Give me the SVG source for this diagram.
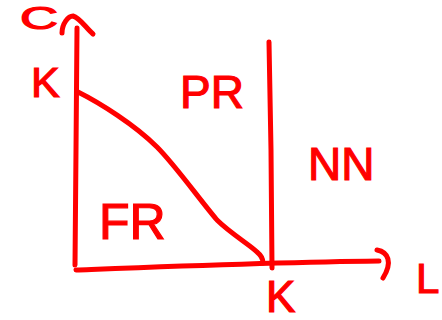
<svg xmlns="http://www.w3.org/2000/svg" width="442" height="320" viewBox="0 0 442 320">
<style>
.ln{fill:none;stroke:#ff0000;stroke-width:5;stroke-linecap:round;stroke-linejoin:round}
.t{font-family:"Liberation Sans",Arial,sans-serif;fill:#ff0000;stroke:#ff0000;stroke-width:1.2}
</style>
<rect width="442" height="320" fill="#ffffff"/>
<g id="connectors">
<path class="ln" d="M75,265 L76,150 L77,28"/>
<path class="ln" d="M62,33 C62,24 68,16 73,16 C80,18 86,28 93,34"/>
<path class="ln" d="M76,270 C180,266 280,262 379,261"/>
<path class="ln" d="M377,250 C388,252 393,262 383,278"/>
<path class="ln" d="M269,42 L271,150 L272,268"/>
<path class="ln" d="M78,92 C100,103 135,125 157,147 C175,165 200,200 217,220 C230,233 250,245 257,252 C262,256 263,260 263,263"/>
</g>
<g id="label-C"><text class="t" x="20" y="29" font-size="31" textLength="38" lengthAdjust="spacingAndGlyphs">C</text></g>
<g id="label-K-left"><text class="t" x="31" y="97" font-size="43">K</text></g>
<g id="label-PR"><text class="t" x="180" y="108" font-size="46">PR</text></g>
<g id="label-NN"><text class="t" x="308" y="180" font-size="46">NN</text></g>
<g id="label-FR"><text class="t" x="99" y="239" font-size="50">FR</text></g>
<g id="label-K-bottom"><text class="t" x="266" y="312" font-size="44">K</text></g>
<g id="label-L"><text class="t" x="416" y="293" font-size="42">L</text></g>
</svg>
